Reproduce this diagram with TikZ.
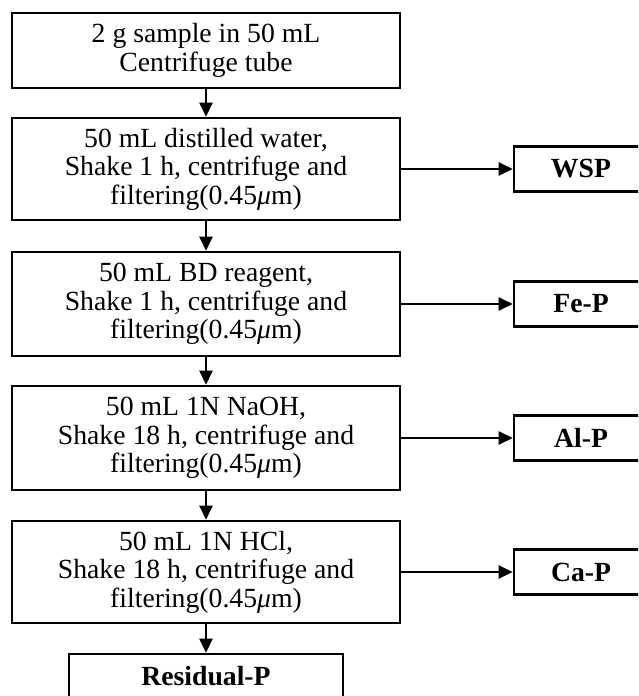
\documentclass[tikz,border=0pt]{standalone}
\usepackage{fontspec}
\setmainfont{Liberation Serif}
\usepackage{tikz}
\usetikzlibrary{arrows.meta}
\usetikzlibrary{positioning}
\tikzset{
step box/.style={
	rectangle,
	minimum width=9.7cm,
	text centered,
	align=center,
	draw=black,
	line width=1.9pt,
	fill=white,
	inner sep=2pt,
	font=\fontsize{19.7}{20.2}\selectfont
},
frac box/.style={
	rectangle,
	minimum width=3.35cm,
	minimum height=1.125cm,
	text centered,
	align=center,
	draw=black,
	line width=1.9pt,
	fill=white,
	inner sep=2pt,
	font=\fontsize{19.7}{20.2}\selectfont\bfseries
},
arrow/.style={
	-{Triangle[length=10pt,width=9.5pt]},
	draw=black,
	line width=1.1pt
}
}
\newcommand{\filt}{filtering(0.45\textit{μ}m)}

\begin{document}
\begin{tikzpicture}[x=0.025cm, y=-0.025cm]
\useasboundingbox (0,0) rectangle (638,696);
\clip (0,0) rectangle (638,696);
% ===== Extraction steps (centre column, x = 206) =====
\node (sample) [step box, minimum height=1.875cm] at (206, 50.5) {2 g sample in 50 mL\\Centrifuge tube};
\node (water)  [step box, minimum height=2.55cm]  at (206, 169)  {50 mL distilled water,\\Shake 1 h, centrifuge and\\\filt};
\node (bd)     [step box, minimum height=2.6cm]   at (206, 304)  {50 mL BD reagent,\\Shake 1 h, centrifuge and\\\filt};
\node (naoh)   [step box, minimum height=2.6cm]   at (206, 438)  {50 mL 1N NaOH,\\Shake 18 h, centrifuge and\\\filt};
\node (hcl)    [step box, minimum height=2.55cm]  at (206, 572)  {50 mL 1N HCl,\\Shake 18 h, centrifuge and\\\filt};
\node (resid)  [frac box, minimum width=6.85cm]   at (206, 676.5){Residual-P};
% ===== Fractions (right side) =====
\node (wsp) [frac box] at (581, 169) {WSP};
\node (fep) [frac box] at (581, 304) {Fe-P};
\node (alp) [frac box] at (581, 438) {Al-P};
\node (cap) [frac box] at (581, 572) {Ca-P};
% ===== Arrows =====
\draw [arrow] (sample) -- (water);
\draw [arrow] (water)  -- (bd);
\draw [arrow] (bd)     -- (naoh);
\draw [arrow] (naoh)   -- (hcl);
\draw [arrow] (hcl)    -- (resid);
\draw [arrow] (water.east) -- (wsp.west);
\draw [arrow] (bd.east)    -- (fep.west);
\draw [arrow] (naoh.east)  -- (alp.west);
\draw [arrow] (hcl.east)   -- (cap.west);
\end{tikzpicture}
\end{document}
